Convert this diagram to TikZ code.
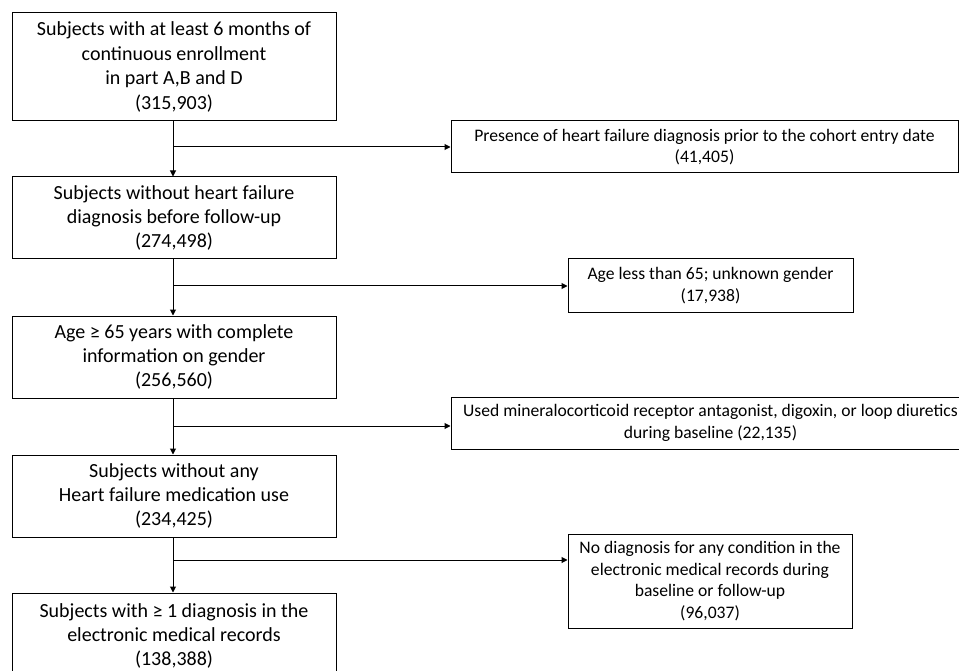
\documentclass[tikz,border=0pt]{standalone}
\usepackage{fontspec}
\setmainfont{Carlito}
\usetikzlibrary{arrows.meta}
\begin{document}
\begin{tikzpicture}[x=1pt,y=-1pt,
  mainbox/.style={draw=black,line width=1pt,inner sep=0pt,align=center,
    font=\fontsize{20}{24.4}\selectfont},
  sidebox/.style={draw=black,line width=1pt,inner sep=0pt,align=center,
    font=\fontsize{17.6}{21.5}\selectfont},
  arr/.style={line width=1pt,-{Triangle[length=6pt,width=6pt]}},
  ln/.style={line width=1pt}]
\useasboundingbox (0,0) rectangle (959,671);
% left column
\node[mainbox,minimum width=324pt,minimum height=108pt] (b1) at (174,67)
  {Subjects with at least 6 months of\\continuous enrollment\\in part A,B and D\\(315,903)};
\node[mainbox,minimum width=324pt,minimum height=82pt] (b2) at (174,218)
  {Subjects without heart failure\\diagnosis before follow-up\\(274,498)};
\node[mainbox,minimum width=324pt,minimum height=82pt] (b3) at (174,357)
  {Age ≥ 65 years with complete\\information on gender\\(256,560)};
\node[mainbox,minimum width=324pt,minimum height=82pt] (b4) at (174,496)
  {Subjects without any\\Heart failure medication use\\(234,425)};
\node[mainbox,minimum width=324pt,minimum height=86pt] (b5) at (174,636)
  {Subjects with ≥ 1 diagnosis in the\\electronic medical records\\(138,388)};
% right column
\node[sidebox,minimum width=507pt,minimum height=52pt] (r1) at (704.5,147)
  {Presence of heart failure diagnosis prior to the cohort entry date\\(41,405)};
\node[sidebox,minimum width=285pt,minimum height=53pt] (r2) at (710.5,285.5)
  {Age less than 65; unknown gender\\(17,938)};
\node[sidebox,minimum width=519pt,minimum height=52pt] (r3) at (710.5,423)
  {Used mineralocorticoid receptor antagonist, digoxin, or loop diuretics\\during baseline (22,135)};
\node[sidebox,minimum width=284pt,minimum height=94pt] (r4) at (710,581)
  {No diagnosis for any condition in the\\electronic medical records during\\baseline or follow-up\\(96,037)};
% junctions
\coordinate (j1) at (173,147);
\coordinate (j2) at (173,286);
\coordinate (j3) at (173,426);
\coordinate (j4) at (173,560);
% vertical arrows
\draw[arr] (b1.south -| j1) -- (b2.north -| j1);
\draw[arr] (b2.south -| j2) -- (b3.north -| j2);
\draw[arr] (b3.south -| j3) -- (b4.north -| j3);
\draw[arr] (b4.south -| j4) -- (b5.north -| j4);
% side arrows
\draw[arr] (j1) -- (j1 -| r1.west);
\draw[arr] (j2) -- (j2 -| r2.west);
\draw[arr] (j3) -- (j3 -| r3.west);
\draw[arr] (j4) -- (j4 -| r4.west);
\end{tikzpicture}
\end{document}
